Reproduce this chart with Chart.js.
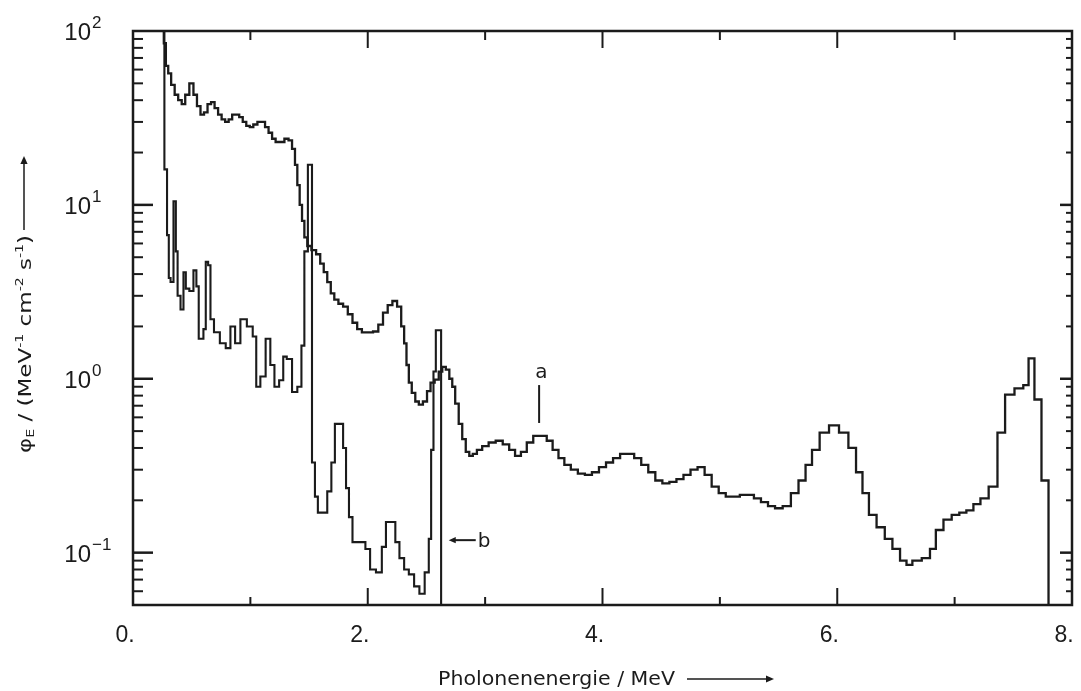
<!DOCTYPE html>
<html>
<head>
<meta charset="utf-8">
<title>Photonenspektrum</title>
<script src="https://cdn.jsdelivr.net/npm/chart.js@4.4.1/dist/chart.umd.min.js"></script>
<style>
  html, body { margin: 0; padding: 0; background: #fff; }
  #wrap { width: 1081px; height: 691px; }
</style>
</head>
<body>
<div id="wrap"><canvas id="spectrum" width="1081" height="691"></canvas></div>
<script>
// upper spectrum (curve with peak "a")
const upperEnergy = [0.255, 0.27, 0.29, 0.31, 0.34, 0.37, 0.40, 0.43, 0.46, 0.50, 0.53, 0.56, 0.59, 0.62, 0.65,
  0.68, 0.71, 0.74, 0.77, 0.80, 0.83, 0.86, 0.89, 0.92, 0.95, 0.98, 1.01, 1.04, 1.08, 1.11, 1.14, 1.17, 1.20,
  1.23, 1.27, 1.31, 1.34, 1.37, 1.39, 1.41, 1.43, 1.45, 1.47, 1.50, 1.54, 1.58, 1.61, 1.64, 1.67, 1.70, 1.73,
  1.77, 1.81, 1.85, 1.89, 1.93, 1.97, 2.02, 2.07, 2.11, 2.15, 2.19, 2.23, 2.27, 2.30, 2.32, 2.34, 2.36, 2.39,
  2.42, 2.45, 2.49, 2.52, 2.55, 2.59, 2.62, 2.65, 2.68, 2.71, 2.73, 2.76, 2.79, 2.82, 2.85, 2.88, 2.91, 2.95,
  3.00, 3.06, 3.12, 3.18, 3.23, 3.28, 3.33, 3.38, 3.44, 3.50, 3.55, 3.60, 3.65, 3.70, 3.76, 3.82, 3.88, 3.94,
  4.00, 4.06, 4.12, 4.18, 4.24, 4.30, 4.36, 4.42, 4.48, 4.54, 4.60, 4.66, 4.72, 4.78, 4.84, 4.90, 4.96, 5.02,
  5.08, 5.14, 5.20, 5.26, 5.32, 5.38, 5.44, 5.50, 5.57, 5.64, 5.70, 5.76, 5.81, 5.89, 5.97, 6.06, 6.13, 6.19,
  6.24, 6.30, 6.37, 6.44, 6.50, 6.57, 6.61, 6.67, 6.77, 6.81, 6.87, 6.94, 7.01, 7.07, 7.13, 7.19, 7.25, 7.33,
  7.40, 7.46, 7.56, 7.61, 7.65, 7.71, 7.77, 7.83];
const upperFlux = [120, 85, 63, 57, 49, 43, 40, 38, 43, 50, 43, 37, 33, 34, 38,
  39, 36, 33, 31, 30, 31, 33, 33, 32, 30, 28.5, 28, 29, 30, 30, 28, 26, 24,
  23, 23, 24, 23.5, 21, 17, 13, 10, 8.1, 6.5, 5.8, 5.5, 5.2, 4.6, 4.1, 3.6, 3.1, 2.85,
  2.7, 2.6, 2.35, 2.1, 1.93, 1.85, 1.85, 1.87, 2.05, 2.4, 2.65, 2.8, 2.6, 2.0, 1.6, 1.2, 0.95, 0.83,
  0.74, 0.71, 0.74, 0.85, 0.95, 0.99, 1.1, 1.17, 1.13, 1.0, 0.9, 0.72, 0.55, 0.45, 0.38, 0.36, 0.37, 0.39,
  0.41, 0.43, 0.44, 0.42, 0.39, 0.36, 0.38, 0.43, 0.47, 0.47, 0.44, 0.39, 0.35, 0.32, 0.30, 0.285, 0.28, 0.29,
  0.31, 0.33, 0.35, 0.37, 0.37, 0.35, 0.32, 0.29, 0.26, 0.25, 0.255, 0.265, 0.28, 0.30, 0.31, 0.28, 0.24, 0.22,
  0.21, 0.21, 0.215, 0.215, 0.205, 0.195, 0.185, 0.18, 0.185, 0.22, 0.26, 0.32, 0.39, 0.49, 0.54, 0.49, 0.40, 0.29,
  0.22, 0.165, 0.14, 0.12, 0.105, 0.09, 0.085, 0.09, 0.093, 0.105, 0.135, 0.155, 0.165, 0.17, 0.175, 0.19, 0.205, 0.24,
  0.49, 0.81, 0.88, 0.92, 1.31, 0.76, 0.26, 0.03];

// lower spectrum (curve with line "b")
const lowerEnergy = [0.255, 0.28, 0.30, 0.31, 0.33, 0.36, 0.37, 0.39, 0.42, 0.44, 0.46, 0.50, 0.53, 0.55, 0.57,
  0.59, 0.61, 0.63, 0.65, 0.67, 0.71, 0.77, 0.81, 0.85, 0.89, 0.94, 1.00, 1.04, 1.06, 1.11, 1.15, 1.19, 1.22,
  1.27, 1.29, 1.33, 1.38, 1.42, 1.45, 1.47, 1.51, 1.54, 1.56, 1.59, 1.63, 1.68, 1.70, 1.74, 1.78, 1.80, 1.83,
  1.85, 1.89, 1.96, 2.00, 2.04, 2.10, 2.14, 2.17, 2.22, 2.25, 2.29, 2.33, 2.37, 2.42, 2.46, 2.51, 2.53, 2.55,
  2.57, 2.59, 2.62, 2.63];
const lowerFlux = [120, 16, 6.7, 3.8, 3.6, 10.5, 5.4, 3.0, 2.5, 4.1, 3.3, 3.2, 4.2, 3.4, 1.7,
  1.7, 1.93, 4.7, 4.5, 2.2, 1.85, 1.6, 1.5, 2.0, 1.6, 2.2, 2.0, 1.75, 0.9, 1.03, 1.7, 1.2, 0.9,
  0.98, 1.34, 1.3, 0.84, 0.9, 1.55, 5.4, 17, 0.33, 0.21, 0.17, 0.17, 0.225, 0.33, 0.55, 0.55, 0.4, 0.235,
  0.16, 0.115, 0.115, 0.105, 0.08, 0.077, 0.108, 0.15, 0.15, 0.115, 0.093, 0.08, 0.075, 0.064, 0.058, 0.077, 0.12, 0.39,
  1.1, 1.9, 1.9, 0.03];

const xTickValues = [0, 2, 4, 6, 8];
const xTickLabels = ['0.', '2.', '4.', '6.', '8.'];
const yTickValues = [0.1, 1, 10, 100];
const yTickExponents = ['-1', '0', '1', '2'];

const INK = '#1b1b1b';

function toPoints(xs, ys) {
  return xs.map((x, i) => ({ x: x, y: ys[i] }));
}

function line(ctx, x1, y1, x2, y2) {
  ctx.beginPath();
  ctx.moveTo(x1, y1);
  ctx.lineTo(x2, y2);
  ctx.stroke();
}

function arrowHead(ctx, x, y, angle, size) {
  ctx.save();
  ctx.translate(x, y);
  ctx.rotate(angle);
  ctx.beginPath();
  ctx.moveTo(0, 0);
  ctx.lineTo(-size, -size * 0.45);
  ctx.lineTo(-size, size * 0.45);
  ctx.closePath();
  ctx.fill();
  ctx.restore();
}

// draws [text, size, dy] pieces from (0,0), stretched to the given length
function drawPieces(ctx, pieces, family, length) {
  let w = 0;
  pieces.forEach(([t, size]) => {
    ctx.font = size + 'px ' + family;
    w += ctx.measureText(t).width;
  });
  ctx.save();
  ctx.scale(length / w, 1);
  let cx = 0;
  pieces.forEach(([t, size, dy]) => {
    ctx.font = size + 'px ' + family;
    ctx.fillText(t, cx, dy);
    cx += ctx.measureText(t).width;
  });
  ctx.restore();
}

// frame with inward ticks on all four sides
const framePlugin = {
  id: 'frame',
  afterDatasetsDraw(chart) {
    const { ctx, chartArea: a, scales: { x, y } } = chart;
    ctx.save();
    ctx.strokeStyle = INK;
    ctx.lineWidth = 2.5;
    ctx.strokeRect(a.left, a.top, a.right - a.left, a.bottom - a.top);

    ctx.lineWidth = 2;
    for (let e = 1; e < 8; e++) {
      const px = x.getPixelForValue(e);
      const major = e % 2 === 0;
      line(ctx, px, a.bottom, px, a.bottom - (major ? 17 : 8));
      line(ctx, px, a.top, px, a.top + (major ? 17 : 9));
    }

    for (let d = -2; d <= 1; d++) {
      for (let m = 1; m <= 9; m++) {
        const v = m * Math.pow(10, d);
        if (v < y.min || v > y.max) continue;
        const py = y.getPixelForValue(v);
        const major = m === 1;
        ctx.lineWidth = major ? 2.5 : 2;
        line(ctx, a.left, py, a.left + (major ? 20 : 10), py);
        line(ctx, a.right, py, a.right - (major ? 12 : 6), py);
      }
    }
    ctx.restore();
  }
};

// y tick labels with exponents, axis titles, markers a and b
const textPlugin = {
  id: 'texts',
  afterDraw(chart) {
    const { ctx, scales: { x, y } } = chart;
    ctx.save();
    ctx.fillStyle = INK;
    ctx.strokeStyle = INK;
    ctx.textBaseline = 'alphabetic';

    // y tick labels
    yTickValues.forEach((v, i) => {
      const py = y.getPixelForValue(v);
      ctx.font = '24px "Liberation Sans", Arial, sans-serif';
      ctx.textAlign = 'right';
      ctx.fillText('10', 91, py + 9);
      ctx.font = '17px "Liberation Sans", Arial, sans-serif';
      ctx.textAlign = 'left';
      ctx.fillText(yTickExponents[i].replace('-', '\u2212'), 92, py - 3);
    });

    // x axis title
    ctx.textAlign = 'left';
    ctx.save();
    ctx.translate(438, 685);
    drawPieces(ctx, [['Pholonenenergie / MeV', 19, 0]], '"DejaVu Sans", sans-serif', 237);
    ctx.restore();
    ctx.lineWidth = 1.5;
    line(ctx, 687, 679, 768, 679);
    arrowHead(ctx, 774, 679, 0, 8);

    // y axis title (rotated), with subscript and superscripts
    ctx.save();
    ctx.translate(31, 453);
    ctx.rotate(-Math.PI / 2);
    drawPieces(ctx, [
      ['\u03c6', 18, 0], ['E', 11, 3], [' / (MeV', 18, 0], ['-1', 11, -8],
      [' cm', 18, 0], ['-2', 11, -8], [' s', 18, 0], ['-1', 11, -8], [')', 18, 0]
    ], '"DejaVu Sans", sans-serif', 218);
    ctx.restore();
    ctx.lineWidth = 1.5;
    line(ctx, 24, 230, 24, 162);
    arrowHead(ctx, 24, 156, -Math.PI / 2, 8);

    // marker a
    const ax = x.getPixelForValue(3.46);
    ctx.lineWidth = 2;
    line(ctx, ax, y.getPixelForValue(0.92), ax, y.getPixelForValue(0.557));
    ctx.font = '20px "DejaVu Sans", sans-serif';
    ctx.textAlign = 'center';
    ctx.fillText('a', x.getPixelForValue(3.48), y.getPixelForValue(1.09) + 6);

    // marker b
    const by = y.getPixelForValue(0.118);
    const bx1 = x.getPixelForValue(2.69);
    const bx2 = x.getPixelForValue(2.92);
    ctx.lineWidth = 2;
    line(ctx, bx1 + 5, by, bx2, by);
    arrowHead(ctx, bx1, by, Math.PI, 7);
    ctx.textAlign = 'left';
    ctx.fillText('b', bx2 + 2, by + 7);

    ctx.restore();
  }
};

const Spectrum = {
  init() {
    const el = document.getElementById('spectrum');
    this.chart = new Chart(el, {
      type: 'line',
      data: {
        datasets: [
          {
            label: 'a',
            data: toPoints(upperEnergy, upperFlux),
            borderColor: INK,
            borderWidth: 2.3,
            stepped: 'middle',
            pointRadius: 0,
            fill: false
          },
          {
            label: 'b',
            data: toPoints(lowerEnergy, lowerFlux),
            borderColor: INK,
            borderWidth: 2.1,
            stepped: 'middle',
            pointRadius: 0,
            fill: false
          }
        ]
      },
      options: {
        responsive: false,
        animation: false,
        layout: { padding: { top: 31, right: 9, left: 0, bottom: 0 } },
        plugins: {
          legend: { display: false },
          tooltip: { enabled: false }
        },
        scales: {
          x: {
            type: 'linear',
            min: 0,
            max: 8,
            afterBuildTicks: (s) => { s.ticks = xTickValues.map(v => ({ value: v })); },
            afterFit: (s) => {
              s.height = 86;
              s.paddingLeft = 0;
              s.paddingRight = 0;
            },
            ticks: {
              callback: (v) => xTickLabels[xTickValues.indexOf(v)],
              font: { family: '"Liberation Sans", Arial, sans-serif', size: 23 },
              color: INK,
              padding: 17,
              labelOffset: -8,
              maxRotation: 0,
              autoSkip: false
            },
            grid: { display: false, drawTicks: false },
            border: { display: false }
          },
          y: {
            type: 'logarithmic',
            min: 0.05,
            max: 100,
            afterBuildTicks: (s) => { s.ticks = yTickValues.map(v => ({ value: v })); },
            afterFit: (s) => { s.width = 133; },
            ticks: { display: false },
            grid: { display: false, drawTicks: false },
            border: { display: false }
          }
        }
      },
      plugins: [framePlugin, textPlugin]
    });
  }
};

document.addEventListener('DOMContentLoaded', () => {
  Spectrum.init();
});
</script>
</body>
</html>
